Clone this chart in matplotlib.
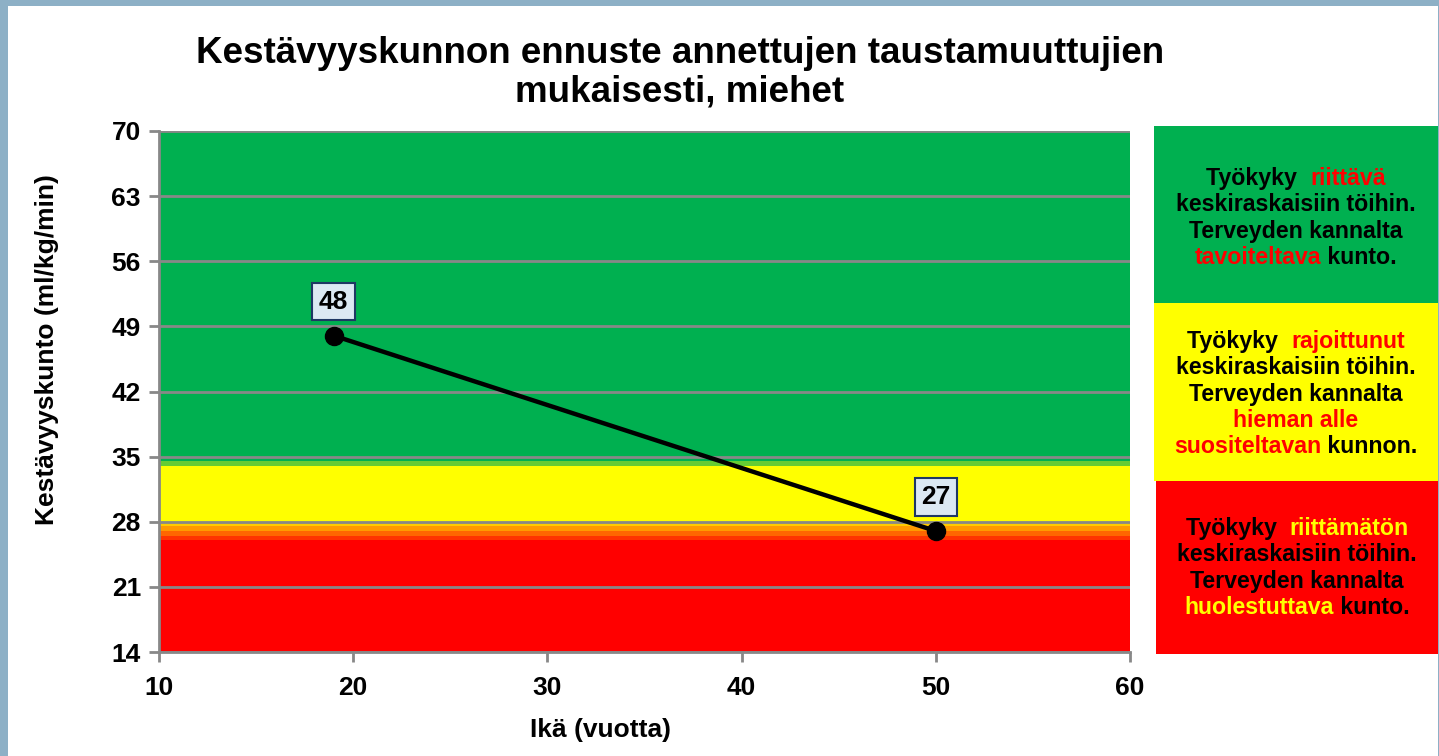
import numpy as np
import matplotlib
matplotlib.use("Agg")
import matplotlib.pyplot as plt
from matplotlib.patches import Rectangle
from matplotlib.offsetbox import TextArea, HPacker, VPacker, AnnotationBbox

plt.rcParams['font.family'] = ['Liberation Sans', 'DejaVu Sans']
plt.rcParams['font.weight'] = 'bold'

# data
ages = [19, 50]
fitness = [48, 27]
y_ticks = [14, 21, 28, 35, 42, 49, 56, 63, 70]
x_ticks = [10, 20, 30, 40, 50, 60]

# background bands (low, high, colour)
band_low = [14, 26.0, 26.5, 27.0, 27.5, 28, 34.0, 34.5]
band_high = [26.0, 26.5, 27.0, 27.5, 28, 34.0, 34.5, 70]
band_colors = ['#ff0000', '#ff3300', '#ff6600', '#ff9900', '#ffcc00',
               '#ffff00', '#66cc33', '#00b050']

# side panels: lines of (text, colour) segments
panel_green = [
    [("Työkyky  ", "black"), ("riittävä", "#ff0000")],
    [("keskiraskaisiin töihin.", "black")],
    [("Terveyden kannalta", "black")],
    [("tavoiteltava", "#ff0000"), (" kunto.", "black")],
]
panel_yellow = [
    [("Työkyky  ", "black"), ("rajoittunut", "#ff0000")],
    [("keskiraskaisiin töihin.", "black")],
    [("Terveyden kannalta", "black")],
    [("hieman alle", "#ff0000")],
    [("suositeltavan", "#ff0000"), (" kunnon.", "black")],
]
panel_red = [
    [("Työkyky  ", "black"), ("riittämätön", "#ffff00")],
    [("keskiraskaisiin töihin.", "black")],
    [("Terveyden kannalta", "black")],
    [("huolestuttava", "#ffff00"), (" kunto.", "black")],
]

W, H = 1439, 756
fig = plt.figure(figsize=(W / 100, H / 100), dpi=100)
fig.patch.set_facecolor('#8db0c6')


def fx(px):
    return px / W


def fy(py):
    return 1 - py / H


# white slide area
fig.add_artist(Rectangle((fx(8), 0), fx(1438) - fx(8), fy(6), transform=fig.transFigure,
                         facecolor='white', edgecolor='none', zorder=0))

ax = fig.add_axes([fx(159), fy(652), fx(1130) - fx(159), fy(131) - fy(652)])
for lo, hi, c in zip(band_low, band_high, band_colors):
    ax.axhspan(lo, hi, color=c, lw=0, zorder=0)

for yv in y_ticks:
    ax.axhline(yv, color='#888888', lw=2, zorder=1)

ax.plot(ages, fitness, color='black', lw=3.2, marker='o', ms=13, zorder=3)
for a, f in zip(ages, fitness):
    ax.annotate(str(f), (a, f), xytext=(0, 34), textcoords='offset pixels',
                ha='center', va='center', fontsize=19, fontweight='bold',
                bbox=dict(boxstyle='square,pad=0.25', fc='#dce9f3', ec='#1f3864', lw=1.5),
                zorder=4)

ax.set_xlim(10, 60)
ax.set_ylim(14, 70)
ax.set_xticks(x_ticks)
ax.set_yticks(y_ticks)
ax.tick_params(axis='both', labelsize=19, color='#888888', width=2, length=7)
ax.tick_params(axis='y', pad=6)
ax.tick_params(axis='x', pad=10)
for lab in ax.get_xticklabels() + ax.get_yticklabels():
    lab.set_fontweight('bold')
for s in ['top', 'right']:
    ax.spines[s].set_visible(False)
for s in ['left', 'bottom']:
    ax.spines[s].set_color('#888888')
    ax.spines[s].set_linewidth(2)

ax.set_xlabel('Ikä (vuotta)', fontsize=19, fontweight='bold', va='center')
ax.xaxis.set_label_coords((601 - 159) / 971, -(730 - 652) / 521)
ax.set_ylabel('Kestävyyskunto (ml/kg/min)', fontsize=19, fontweight='bold',
              va='center', ha='center')
ax.yaxis.set_label_coords(-(159 - 47) / 971, (652 - 350) / 521)

fig.text(fx(680), fy(73), 'Kestävyyskunnon ennuste annettujen taustamuuttujien\nmukaisesti, miehet',
         ha='center', va='center', fontsize=26.5, fontweight='bold', linespacing=1.12)


def panel(x0, y0, x1, y1, color, lines, cy):
    fig.add_artist(Rectangle((fx(x0), fy(y1)), fx(x1) - fx(x0), fy(y0) - fy(y1),
                             transform=fig.transFigure, facecolor=color, edgecolor='none', zorder=1))
    rows = []
    for line in lines:
        parts = [TextArea(t, textprops=dict(color=c, fontsize=16.7, fontweight='bold'))
                 for t, c in line]
        rows.append(HPacker(children=parts, align='baseline', pad=0, sep=0))
    box = VPacker(children=rows, align='center', pad=0, sep=2.5)
    ab = AnnotationBbox(box, (fx((x0 + x1) / 2), fy(cy)), xycoords='figure fraction',
                        frameon=False, zorder=2)
    fig.add_artist(ab)


panel(1154, 126, 1438, 303, '#00b050', panel_green, 218)
panel(1154, 303, 1438, 481, '#ffff00', panel_yellow, 394)
panel(1156, 481, 1438, 654, '#ff0000', panel_red, 568)

fig.savefig('out.png', dpi=100, facecolor=fig.get_facecolor())
